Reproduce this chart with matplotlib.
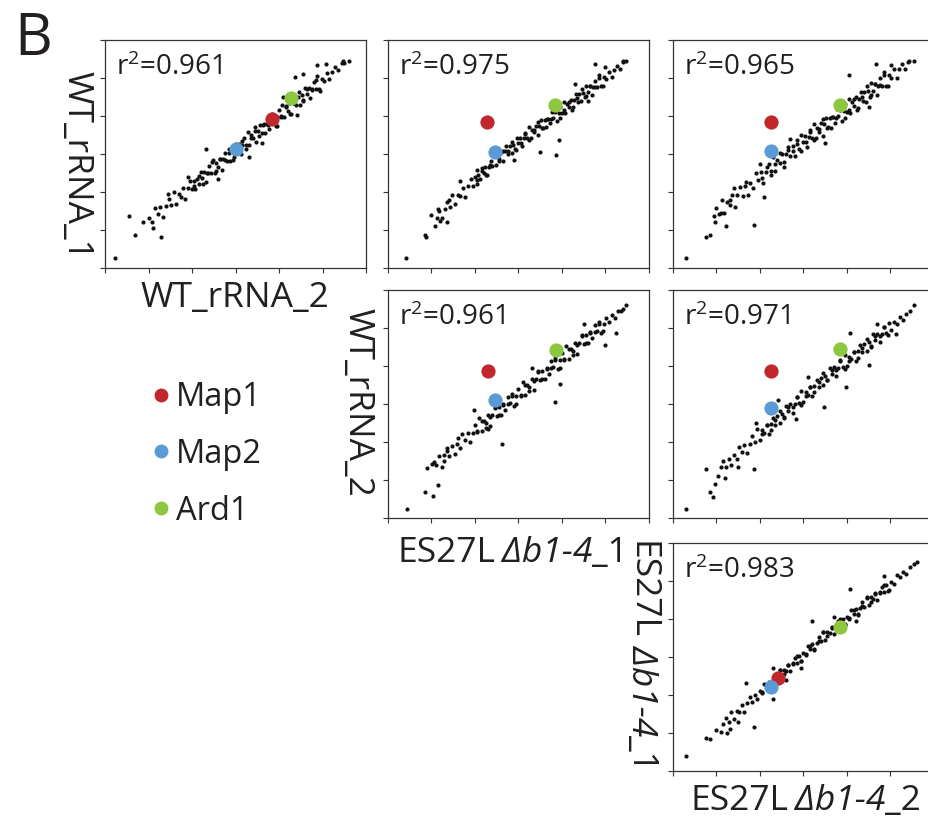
import numpy as np
import matplotlib
matplotlib.use("Agg")
import matplotlib.pyplot as plt
from matplotlib.lines import Line2D

W, H = 929, 817
plt.rcParams['font.family'] = ['Open Sans', 'DejaVu Sans']
plt.rcParams['mathtext.fontset'] = 'custom'
plt.rcParams['mathtext.rm'] = 'Open Sans'
plt.rcParams['mathtext.it'] = 'Open Sans:italic'
TXT = '#231f20'

# ---- data: points (axis range 0..6) ----
pts_wt1_wt2 = [
    (1.02, 1.32), (1.08, 1.20), (1.15, 1.57), (1.21, 1.41), (1.27, 1.60), (1.33, 1.35), (1.40, 1.62), (1.46, 1.81),
    (1.52, 1.65), (1.58, 2.00), (1.63, 1.68), (1.69, 1.95), (1.74, 1.88), (1.80, 2.11), (1.85, 1.81), (1.90, 2.11),
    (1.95, 2.28), (2.00, 2.07), (2.04, 2.30), (2.08, 2.07), (2.12, 2.33), (2.16, 2.20), (2.20, 2.53), (2.24, 2.36),
    (2.28, 2.53), (2.32, 2.26), (2.36, 2.50), (2.40, 2.68), (2.44, 2.49), (2.48, 2.83), (2.52, 2.50), (2.56, 2.76),
    (2.60, 2.67), (2.64, 2.88), (2.68, 2.58), (2.72, 2.86), (2.76, 3.03), (2.80, 2.81), (2.84, 3.03), (2.88, 2.81),
    (2.92, 3.07), (2.96, 2.93), (3.00, 3.27), (3.04, 3.10), (3.08, 3.26), (3.12, 3.00), (3.16, 3.24), (3.20, 3.41),
    (3.24, 3.23), (3.28, 3.57), (3.32, 3.23), (3.36, 3.49), (3.40, 3.41), (3.44, 3.61), (3.48, 3.31), (3.52, 3.60),
    (3.56, 3.77), (3.60, 3.54), (3.64, 3.77), (3.68, 3.55), (3.72, 3.80), (3.76, 3.67), (3.80, 4.01), (3.84, 3.83),
    (3.88, 4.00), (3.92, 3.74), (3.96, 3.97), (4.00, 4.15), (4.04, 3.97), (4.08, 4.30), (4.12, 3.97), (4.16, 4.23),
    (4.20, 4.14), (4.24, 4.35), (4.28, 4.05), (4.32, 4.33), (4.36, 4.50), (4.40, 4.28), (4.44, 4.50), (4.48, 4.28),
    (4.52, 4.54), (4.56, 4.41), (4.60, 4.74), (4.64, 4.57), (4.68, 4.74), (4.72, 4.47), (4.76, 4.71), (4.80, 4.89),
    (4.84, 4.70), (4.88, 5.04), (4.93, 4.72), (4.98, 4.98), (5.04, 4.92), (5.10, 5.14), (5.16, 4.98), (5.22, 5.16),
    (5.29, 5.30), (5.36, 5.21), (5.44, 5.39), (5.50, 5.39),
    (2.05, 2.15), (2.15, 2.43), (2.25, 2.22), (2.35, 2.51), (2.45, 2.79), (2.55, 2.56), (2.65, 2.86), (2.75, 2.84),
    (2.85, 3.12), (2.95, 2.83), (3.05, 3.07), (3.15, 3.35), (3.25, 3.14), (3.35, 3.43), (3.45, 3.71), (3.55, 3.48),
    (3.65, 3.78), (3.75, 3.76), (3.85, 4.04), (3.95, 3.75), (4.05, 3.99), (4.15, 4.27), (4.25, 4.06), (4.35, 4.35),
    (4.45, 4.63), (4.55, 4.40), (4.65, 4.70), (4.75, 4.68), (4.85, 4.96), (4.95, 4.67),
    (0.23, 0.26), (0.56, 1.37), (0.69, 0.88), (0.87, 1.20), (1.29, 0.82), (2.32, 3.12), (3.30, 2.92), (4.55, 5.10),
    (4.37, 5.03), (5.07, 5.38), (4.87, 5.33), (5.47, 5.46), (5.60, 5.44), (1.90, 2.40), (2.60, 2.35), (3.60, 3.30),
    (4.10, 4.50), (1.45, 1.95), (1.10, 1.05), (4.41, 4.02),
]

pts_wt1_es1 = [
    (1.12, 1.32), (1.18, 1.51), (1.24, 1.31), (1.30, 1.55), (1.36, 1.73), (1.42, 1.61), (1.48, 1.93), (1.54, 1.68),
    (1.60, 1.93), (1.66, 1.90), (1.72, 2.10), (1.78, 1.88), (1.84, 2.17), (1.90, 2.34), (1.95, 2.17), (2.00, 2.39),
    (2.04, 2.21), (2.08, 2.44), (2.12, 2.34), (2.16, 2.63), (2.20, 2.50), (2.24, 2.66), (2.28, 2.45), (2.32, 2.66),
    (2.36, 2.82), (2.40, 2.68), (2.44, 2.98), (2.48, 2.70), (2.52, 2.94), (2.56, 2.88), (2.60, 3.06), (2.64, 2.82),
    (2.68, 3.08), (2.72, 3.21), (2.76, 3.01), (2.80, 3.22), (2.84, 3.03), (2.88, 3.24), (2.92, 3.14), (2.96, 3.42),
    (3.00, 3.28), (3.04, 3.43), (3.08, 3.20), (3.12, 3.41), (3.16, 3.56), (3.20, 3.41), (3.24, 3.70), (3.28, 3.41),
    (3.32, 3.64), (3.36, 3.57), (3.40, 3.75), (3.44, 3.49), (3.48, 3.74), (3.52, 3.89), (3.56, 3.69), (3.60, 3.90),
    (3.64, 3.71), (3.68, 3.92), (3.72, 3.82), (3.76, 4.10), (3.80, 3.96), (3.84, 4.11), (3.88, 3.88), (3.92, 4.09),
    (3.96, 4.24), (4.00, 4.09), (4.04, 4.38), (4.08, 4.09), (4.12, 4.32), (4.16, 4.25), (4.20, 4.43), (4.24, 4.17),
    (4.28, 4.42), (4.32, 4.57), (4.36, 4.37), (4.40, 4.58), (4.44, 4.39), (4.48, 4.60), (4.52, 4.50), (4.56, 4.78),
    (4.60, 4.64), (4.64, 4.79), (4.68, 4.56), (4.72, 4.77), (4.76, 4.92), (4.80, 4.77), (4.85, 5.07), (4.90, 4.79),
    (4.96, 5.03), (5.02, 4.98), (5.08, 5.17), (5.14, 5.02), (5.20, 5.21), (5.27, 5.32), (5.34, 5.24), (5.41, 5.41),
    (5.48, 5.44),
    (2.05, 2.31), (2.15, 2.56), (2.25, 2.44), (2.35, 2.71), (2.45, 2.96), (2.55, 2.82), (2.65, 3.09), (2.75, 3.07),
    (2.85, 3.31), (2.95, 3.10), (3.05, 3.30), (3.15, 3.52), (3.25, 3.38), (3.35, 3.62), (3.45, 3.85), (3.55, 3.68),
    (3.65, 3.93), (3.75, 3.92), (3.85, 4.16), (3.95, 3.95), (4.05, 4.15), (4.15, 4.37), (4.25, 4.23), (4.35, 4.47),
    (4.45, 4.70), (4.55, 4.53), (4.65, 4.78), (4.75, 4.77), (4.85, 5.01), (4.95, 4.80),
    (0.41, 0.26), (0.84, 0.86), (0.87, 0.82), (1.00, 1.39), (1.07, 1.10), (1.15, 1.54), (1.19, 1.25), (1.40, 1.78),
    (3.49, 3.05), (3.87, 2.98), (3.93, 3.36), (4.77, 5.38), (5.40, 5.46), (2.05, 2.57), (1.65, 2.30), (2.90, 2.85),
    (4.30, 4.85), (4.60, 4.40), (5.00, 5.30), (1.35, 1.20),
]

pts_wt1_es2 = [
    (1.00, 1.59), (1.06, 1.41), (1.12, 1.79), (1.18, 1.44), (1.24, 1.75), (1.30, 1.67), (1.36, 1.91), (1.42, 1.60),
    (1.48, 1.93), (1.54, 2.13), (1.60, 1.90), (1.66, 2.17), (1.72, 1.93), (1.78, 2.24), (1.84, 2.11), (1.90, 2.50),
    (1.96, 2.32), (2.02, 2.52), (2.08, 2.25), (2.14, 2.52), (2.20, 2.73), (2.25, 2.54), (2.30, 2.92), (2.35, 2.55),
    (2.40, 2.85), (2.45, 2.76), (2.50, 3.00), (2.55, 2.67), (2.60, 2.99), (2.65, 3.19), (2.70, 2.95), (2.75, 3.20),
    (2.80, 2.96), (2.85, 3.26), (2.90, 3.12), (2.95, 3.49), (3.00, 3.31), (3.04, 3.48), (3.08, 3.19), (3.12, 3.44),
    (3.16, 3.63), (3.20, 3.42), (3.24, 3.78), (3.28, 3.41), (3.32, 3.69), (3.36, 3.59), (3.40, 3.81), (3.44, 3.47),
    (3.48, 3.78), (3.52, 3.96), (3.56, 3.71), (3.60, 3.95), (3.64, 3.69), (3.68, 3.98), (3.72, 3.82), (3.76, 4.19),
    (3.80, 3.99), (3.84, 4.16), (3.88, 3.87), (3.92, 4.12), (3.96, 4.31), (4.00, 4.10), (4.04, 4.46), (4.08, 4.09),
    (4.12, 4.37), (4.16, 4.27), (4.20, 4.49), (4.24, 4.15), (4.28, 4.46), (4.32, 4.64), (4.36, 4.39), (4.40, 4.63),
    (4.44, 4.37), (4.48, 4.66), (4.52, 4.50), (4.56, 4.87), (4.60, 4.67), (4.64, 4.84), (4.68, 4.55), (4.72, 4.80),
    (4.76, 4.99), (4.80, 4.78), (4.85, 5.15), (4.90, 4.79), (4.96, 5.09), (5.02, 5.00), (5.08, 5.24), (5.14, 5.01),
    (5.20, 5.24), (5.27, 5.37), (5.34, 5.25), (5.40, 5.42),
    (2.05, 2.37), (2.15, 2.65), (2.25, 2.45), (2.35, 2.74), (2.45, 3.03), (2.55, 2.79), (2.65, 3.10), (2.75, 3.08),
    (2.85, 3.37), (2.95, 3.08), (3.05, 3.31), (3.15, 3.59), (3.25, 3.37), (3.35, 3.66), (3.45, 3.93), (3.55, 3.69),
    (3.65, 3.98), (3.75, 3.96), (3.85, 4.23), (3.95, 3.94), (4.05, 4.16), (4.15, 4.44), (4.25, 4.22), (4.35, 4.51),
    (4.45, 4.78), (4.55, 4.54), (4.65, 4.83), (4.75, 4.81), (4.85, 5.08), (4.95, 4.79),
    (0.31, 0.26), (0.75, 0.82), (0.86, 0.88), (0.94, 1.37), (0.97, 1.21), (1.11, 1.46), (1.21, 1.10), (1.30, 1.78),
    (1.87, 1.14), (1.68, 2.26), (2.10, 1.87), (4.05, 5.07), (4.66, 5.38), (5.01, 5.33), (5.43, 5.46), (5.54, 5.44),
    (1.40, 2.10), (2.00, 2.75), (3.50, 3.30), (4.50, 4.25), (2.70, 3.40),
]

pts_wt2_es1 = [
    (1.05, 1.47), (1.11, 1.40), (1.17, 1.63), (1.23, 1.35), (1.29, 1.66), (1.35, 1.84), (1.41, 1.64), (1.47, 1.89),
    (1.53, 1.68), (1.59, 1.96), (1.65, 1.85), (1.71, 2.20), (1.77, 2.05), (1.83, 2.24), (1.89, 2.00), (1.95, 2.25),
    (2.00, 2.44), (2.05, 2.27), (2.10, 2.62), (2.15, 2.29), (2.20, 2.56), (2.25, 2.49), (2.30, 2.71), (2.35, 2.41),
    (2.40, 2.71), (2.45, 2.89), (2.50, 2.68), (2.55, 2.91), (2.60, 2.70), (2.65, 2.97), (2.70, 2.85), (2.75, 3.19),
    (2.80, 3.03), (2.85, 3.21), (2.90, 2.96), (2.95, 3.20), (3.00, 3.39), (3.05, 3.22), (3.10, 3.57), (3.15, 3.24),
    (3.20, 3.51), (3.25, 3.44), (3.30, 3.66), (3.35, 3.36), (3.40, 3.66), (3.45, 3.84), (3.50, 3.63), (3.55, 3.86),
    (3.60, 3.65), (3.65, 3.92), (3.70, 3.80), (3.75, 4.14), (3.80, 3.98), (3.85, 4.16), (3.90, 3.91), (3.95, 4.15),
    (4.00, 4.34), (4.05, 4.17), (4.10, 4.52), (4.15, 4.19), (4.20, 4.46), (4.25, 4.39), (4.30, 4.61), (4.35, 4.31),
    (4.40, 4.61), (4.45, 4.79), (4.50, 4.58), (4.55, 4.81), (4.60, 4.60), (4.65, 4.87), (4.70, 4.75), (4.75, 5.09),
    (4.80, 4.93), (4.85, 5.11), (4.90, 4.86), (4.96, 5.11), (5.02, 5.27), (5.08, 5.15), (5.15, 5.35), (5.22, 5.26),
    (5.29, 5.46), (5.36, 5.44),
    (2.05, 2.29), (2.15, 2.55), (2.25, 2.38), (2.35, 2.65), (2.45, 2.92), (2.55, 2.71), (2.65, 3.00), (2.75, 2.99),
    (2.85, 3.26), (2.95, 3.01), (3.05, 3.24), (3.15, 3.50), (3.25, 3.33), (3.35, 3.60), (3.45, 3.87), (3.55, 3.66),
    (3.65, 3.95), (3.75, 3.94), (3.85, 4.21), (3.95, 3.96), (4.05, 4.19), (4.15, 4.45), (4.25, 4.28), (4.35, 4.55),
    (4.45, 4.82), (4.55, 4.61), (4.65, 4.90), (4.75, 4.89), (4.85, 5.16), (4.95, 4.91),
    (0.43, 0.25), (0.86, 0.69), (1.03, 0.57), (1.15, 0.88), (0.89, 1.31), (1.02, 1.42), (1.28, 1.51), (1.36, 1.77),
    (1.97, 2.85), (2.62, 1.95), (3.85, 3.04), (3.95, 3.53), (4.98, 4.54), (5.25, 4.86), (5.47, 5.61), (5.40, 5.50),
    (1.60, 2.10), (2.30, 2.35), (3.30, 3.95), (4.50, 5.10),
]

pts_wt2_es2 = [
    (1.10, 1.33), (1.16, 1.50), (1.22, 1.33), (1.28, 1.56), (1.34, 1.39), (1.40, 1.65), (1.46, 1.55), (1.52, 1.88),
    (1.58, 1.75), (1.64, 1.93), (1.70, 1.72), (1.76, 1.96), (1.82, 2.15), (1.88, 2.01), (1.94, 2.34), (2.00, 2.06),
    (2.05, 2.31), (2.10, 2.25), (2.15, 2.46), (2.20, 2.20), (2.25, 2.48), (2.30, 2.64), (2.35, 2.46), (2.40, 2.68),
    (2.45, 2.50), (2.50, 2.75), (2.55, 2.64), (2.60, 2.96), (2.65, 2.82), (2.70, 2.99), (2.75, 2.77), (2.80, 3.00),
    (2.85, 3.18), (2.90, 3.03), (2.95, 3.35), (3.00, 3.06), (3.05, 3.31), (3.10, 3.25), (3.15, 3.46), (3.20, 3.20),
    (3.25, 3.48), (3.30, 3.64), (3.35, 3.46), (3.40, 3.68), (3.45, 3.50), (3.50, 3.75), (3.55, 3.63), (3.60, 3.95),
    (3.65, 3.80), (3.70, 3.97), (3.75, 3.74), (3.80, 3.96), (3.85, 4.14), (3.90, 3.98), (3.95, 4.30), (4.00, 4.00),
    (4.05, 4.24), (4.10, 4.18), (4.15, 4.38), (4.20, 4.12), (4.25, 4.39), (4.30, 4.54), (4.35, 4.36), (4.40, 4.57),
    (4.45, 4.39), (4.50, 4.63), (4.55, 4.51), (4.60, 4.83), (4.65, 4.68), (4.70, 4.85), (4.75, 4.62), (4.80, 4.84),
    (4.85, 5.02), (4.90, 4.86), (4.96, 5.13), (5.02, 4.94), (5.08, 5.15), (5.15, 5.10), (5.22, 5.29), (5.29, 5.22),
    (5.36, 5.38), (5.45, 5.45),
    (2.05, 2.20), (2.15, 2.45), (2.25, 2.31), (2.35, 2.57), (2.45, 2.82), (2.55, 2.65), (2.65, 2.92), (2.75, 2.93),
    (2.85, 3.19), (2.95, 2.98), (3.05, 3.20), (3.15, 3.45), (3.25, 3.31), (3.35, 3.57), (3.45, 3.82), (3.55, 3.64),
    (3.65, 3.90), (3.75, 3.90), (3.85, 4.15), (3.95, 3.93), (4.05, 4.13), (4.15, 4.37), (4.25, 4.22), (4.35, 4.47),
    (4.45, 4.71), (4.55, 4.52), (4.65, 4.78), (4.75, 4.78), (4.85, 5.03), (4.95, 4.81),
    (0.31, 0.25), (0.86, 0.69), (0.93, 0.56), (0.77, 1.29), (0.96, 0.89), (1.03, 1.11), (1.87, 1.29), (2.41, 3.11),
    (1.90, 2.49), (3.98, 3.46), (4.51, 4.03), (4.07, 4.86), (4.68, 5.11), (5.13, 4.84), (2.83, 2.61), (3.48, 2.91),
    (5.55, 5.61), (1.20, 1.05), (1.50, 1.35), (3.10, 3.70),
]

pts_es1_es2 = [
    (1.10, 1.03), (1.16, 1.23), (1.22, 1.39), (1.28, 1.29), (1.34, 1.56), (1.40, 1.36), (1.46, 1.58), (1.52, 1.55),
    (1.58, 1.73), (1.64, 1.56), (1.70, 1.79), (1.76, 1.94), (1.82, 1.82), (1.88, 2.01), (1.94, 1.89), (2.00, 2.11),
    (2.05, 2.04), (2.10, 2.30), (2.15, 2.20), (2.20, 2.34), (2.25, 2.18), (2.30, 2.37), (2.35, 2.52), (2.40, 2.41),
    (2.45, 2.67), (2.50, 2.46), (2.55, 2.67), (2.60, 2.63), (2.65, 2.80), (2.70, 2.62), (2.75, 2.84), (2.80, 2.98),
    (2.85, 2.85), (2.90, 3.03), (2.95, 2.90), (3.00, 3.11), (3.05, 3.04), (3.10, 3.30), (3.15, 3.20), (3.20, 3.34),
    (3.25, 3.18), (3.30, 3.37), (3.35, 3.52), (3.40, 3.41), (3.45, 3.67), (3.50, 3.46), (3.55, 3.67), (3.60, 3.62),
    (3.65, 3.79), (3.70, 3.60), (3.75, 3.82), (3.80, 3.95), (3.85, 3.82), (3.90, 3.99), (3.95, 3.86), (4.00, 4.06),
    (4.05, 3.99), (4.10, 4.24), (4.15, 4.14), (4.20, 4.27), (4.25, 4.11), (4.30, 4.29), (4.35, 4.44), (4.40, 4.32),
    (4.45, 4.58), (4.50, 4.36), (4.55, 4.57), (4.60, 4.52), (4.65, 4.69), (4.70, 4.50), (4.75, 4.72), (4.80, 4.85),
    (4.85, 4.72), (4.90, 4.89), (4.96, 4.76), (5.02, 4.98), (5.08, 4.91), (5.15, 5.16), (5.22, 5.10), (5.29, 5.25),
    (5.36, 5.19), (5.45, 5.37),
    (2.05, 2.08), (2.15, 2.30), (2.25, 2.21), (2.35, 2.43), (2.45, 2.65), (2.55, 2.54), (2.65, 2.78), (2.75, 2.81),
    (2.85, 3.03), (2.95, 2.89), (3.05, 3.08), (3.15, 3.30), (3.25, 3.21), (3.35, 3.43), (3.45, 3.65), (3.55, 3.54),
    (3.65, 3.77), (3.75, 3.79), (3.85, 4.00), (3.95, 3.85), (4.05, 4.03), (4.15, 4.24), (4.25, 4.14), (4.35, 4.35),
    (4.45, 4.56), (4.55, 4.44), (4.65, 4.67), (4.75, 4.69), (4.85, 4.90), (4.95, 4.75),
    (0.31, 0.39), (0.77, 0.86), (0.86, 0.83), (0.99, 1.07), (1.24, 1.01), (1.87, 1.17), (1.68, 2.31), (2.30, 1.89),
    (2.30, 2.72), (3.20, 3.95), (4.06, 4.80), (4.86, 5.13), (5.55, 5.46), (5.60, 5.50), (1.30, 1.10), (1.50, 1.30),
    (2.60, 2.40), (3.70, 4.05), (4.20, 3.95), (2.95, 2.70),
]

r2_values = [0.961, 0.975, 0.965, 0.961, 0.971, 0.983]

# highlighted proteins, one (x, y) per panel in the same order as r2_values
map1_xy = [(3.84, 3.91), (2.28, 3.83), (2.26, 3.83), (2.30, 3.88), (2.26, 3.88), (2.42, 2.46)]
map2_xy = [(3.00, 3.13), (2.46, 3.05), (2.26, 3.09), (2.47, 3.11), (2.26, 2.89), (2.25, 2.22)]
ard1_xy = [(4.27, 4.47), (3.85, 4.30), (3.85, 4.28), (3.87, 4.43), (3.84, 4.44), (3.84, 3.79)]

protein_names = ['Map1', 'Map2', 'Ard1']
protein_colors = ['#c1272d', '#5b9bd5', '#8dc63f']

# ---- layout (pixels) ----
col_left = [105, 388, 673]
row_top = [40, 290, 543]
AX_W, AX_H = 261, 228

fig = plt.figure(figsize=(W / 100, H / 100), dpi=100)


def px_rect(left, top, w, h):
    return [left / W, 1 - (top + h) / H, w / W, h / H]


def ftext(x, y, s, **kw):
    return fig.text(x / W, 1 - y / H, s, color=TXT, **kw)


panels = [
    (0, 0, pts_wt1_wt2),
    (0, 1, pts_wt1_es1),
    (0, 2, pts_wt1_es2),
    (1, 1, pts_wt2_es1),
    (1, 2, pts_wt2_es2),
    (2, 2, pts_es1_es2),
]

for i, (r, c, pts) in enumerate(panels):
    ax = fig.add_axes(px_rect(col_left[c], row_top[r], AX_W, AX_H))
    xy = np.array(pts)
    ax.scatter(xy[:, 0], xy[:, 1], s=9, c='#111111', linewidths=0, zorder=2)
    for hl, col in zip([map1_xy, map2_xy, ard1_xy], protein_colors):
        ax.scatter(hl[i][0], hl[i][1], s=105, c=col, linewidths=0, zorder=3)
    ax.set_xlim(0, 6)
    ax.set_ylim(0, 6)
    ax.set_xticks(range(7))
    ax.set_yticks(range(7))
    ax.tick_params(direction='out', length=3.5, width=0.8, color='#333333',
                   labelbottom=False, labelleft=False)
    for sp in ax.spines.values():
        sp.set_color('#333333')
        sp.set_linewidth(0.9)
    ax.text(0.042, 0.846, 'r$^{2}$=%.3f' % r2_values[i], transform=ax.transAxes,
            fontsize=20, va='baseline', ha='left', color=TXT)

LBL = 25.5

ftext(14, 55, 'B', fontsize=42, va='baseline')
ftext(76, 165, 'WT_rRNA_1', fontsize=LBL, rotation=270, ha='center', va='center')
ftext(235, 307, 'WT_rRNA_2', fontsize=LBL, ha='center', va='baseline')
ftext(357, 402, 'WT_rRNA_2', fontsize=LBL, rotation=270, ha='center', va='center')

fig.canvas.draw()
renderer = fig.canvas.get_renderer()


def mixed_label(cx, cy, parts, vertical=False, gap=6):
    texts = []
    for s, st in parts:
        if vertical:
            t = ftext(0, 0, s, fontsize=LBL, style=st, rotation=270, ha='center', va='top')
        else:
            t = ftext(0, 0, s, fontsize=LBL, style=st, ha='left', va='baseline')
        texts.append(t)
    fig.canvas.draw()
    ext = [t.get_window_extent(renderer) for t in texts]
    sizes = [e.height if vertical else e.width for e in ext]
    total = sum(sizes) + gap
    pos = (cy if vertical else cx) - total / 2
    for k, (t, sz) in enumerate(zip(texts, sizes)):
        if vertical:
            t.set_position((cx / W, 1 - pos / H))
        else:
            t.set_position((pos / W, 1 - cy / H))
        pos += sz + (gap if k == 0 else 0)


es1_parts = [('ES27L', 'normal'), ('\u0394b1-4', 'italic'), ('_1', 'normal')]
es2_parts = [('ES27L', 'normal'), ('\u0394b1-4', 'italic'), ('_2', 'normal')]
mixed_label(513, 562, es1_parts)
mixed_label(806, 810, es2_parts)
mixed_label(642, 656, es1_parts, vertical=True)

handles = [Line2D([], [], marker='o', ls='', markersize=10, markerfacecolor=c,
                  markeredgewidth=0) for c in protein_colors]
fig.legend(handles, protein_names, loc='upper left', bbox_to_anchor=(154 / W, 1 - 381 / H),
           frameon=False, fontsize=23.5, handlelength=0.4, handletextpad=0.28,
           labelspacing=0.73, borderpad=0, borderaxespad=0, labelcolor=TXT)

fig.savefig('out.png', dpi=100)
